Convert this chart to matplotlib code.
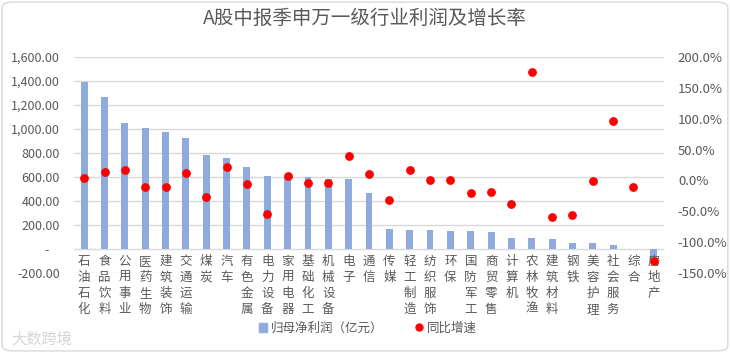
import numpy as np
import matplotlib.pyplot as plt
from matplotlib.patches import FancyBboxPatch, Patch
from matplotlib.lines import Line2D
from matplotlib.ticker import FuncFormatter

plt.rcParams['font.family'] = ['Noto Sans CJK SC', 'DejaVu Sans']

# 数据: 申万一级行业 中报 归母净利润 (亿元) 与 同比增速 (%)
industries = ['石油石化', '食品饮料', '公用事业', '医药生物', '建筑装饰', '交通运输',
              '煤炭', '汽车', '有色金属', '电力设备', '家用电器', '基础化工', '机械设备',
              '电子', '通信', '传媒', '轻工制造', '纺织服饰', '环保', '国防军工',
              '商贸零售', '计算机', '农林牧渔', '建筑材料', '钢铁', '美容护理',
              '社会服务', '综合', '房地产']
profit = [1390, 1270, 1050, 1010, 975, 928, 786, 756, 680, 612, 608, 603, 586,
          580, 470, 167, 162, 161, 150, 148, 143, 92, 88, 87, 50, 50, 36, 2, -110]
growth = [4, 13, 16.5, -10, -11, 12, -27, 22, -5, -55, 7.5, -4, -4, 40, 11, -32,
          16.5, 1, 0, -20, -19, -39, 176, -60, -55.5, -1, 96, -11, -130]

grey = '#595959'
W, H = 730, 353

fig = plt.figure(figsize=(W / 100, H / 100), dpi=100)

# 圆角边框
border = FancyBboxPatch((0.003, 0.006), 0.994, 0.988, boxstyle='round,pad=0,rounding_size=0.015',
                        transform=fig.transFigure, fc='white', ec='#D9D9D9', lw=1, zorder=-1)
fig.add_artist(border)

ax = fig.add_axes([74 / W, 1 - 273 / H, 590 / W, 216 / H])
ax.set_facecolor('none')
x = np.arange(len(industries))
ax.bar(x, profit, width=0.34, color='#8FAADC', zorder=2)
ax.set_xlim(-0.5, len(industries) - 0.5)
ax.set_ylim(-200, 1600)
ax.set_yticks(np.arange(-200, 1601, 200))
ax.yaxis.set_major_formatter(FuncFormatter(lambda v, p: '-    ' if v == 0 else f'{v:,.2f}'))
ax.grid(axis='y', color='#D9D9D9', lw=1, zorder=0)
ax.set_xticks([])
for s in ax.spines.values():
    s.set_visible(False)
ax.tick_params(axis='y', length=0, labelsize=9, labelcolor=grey, pad=10)

# 行业名称竖排 (逐字换行)
for i, name in enumerate(industries):
    ax.text(i, -50, '\n'.join(name), ha='center', va='top', fontsize=9,
            color=grey, linespacing=1.3)

ax2 = ax.twinx()
ax2.scatter(x, growth, s=28, color='#FF0000', zorder=3)
ax2.set_ylim(-150, 200)
ax2.set_yticks(np.arange(-150, 201, 50))
ax2.yaxis.set_major_formatter(FuncFormatter(lambda v, p: f'{v:.1f}%'))
for s in ax2.spines.values():
    s.set_visible(False)
ax2.tick_params(axis='y', length=0, labelsize=9.5, labelcolor=grey, pad=10)

fig.text(0.5, 1 - 18 / H, 'A股中报季申万一级行业利润及增长率', ha='center', va='center',
         fontsize=14, color=grey)

handles = [Patch(color='#8FAADC', label='归母净利润（亿元）'),
           Line2D([], [], marker='o', ls='none', color='#FF0000', markersize=5, label='同比增速')]
fig.legend(handles=handles, loc='center', bbox_to_anchor=(0.504, 1 - 328 / H), ncol=2,
           frameon=False, fontsize=9, labelcolor=grey, handlelength=0.7, handleheight=0.7,
           handletextpad=0.3, columnspacing=2.5)

# 水印
fig.text(0.015, 0.04, '大数跨境', fontsize=11, color='#D5D5D5', ha='left', va='center')

fig.savefig('out.png', dpi=100)
